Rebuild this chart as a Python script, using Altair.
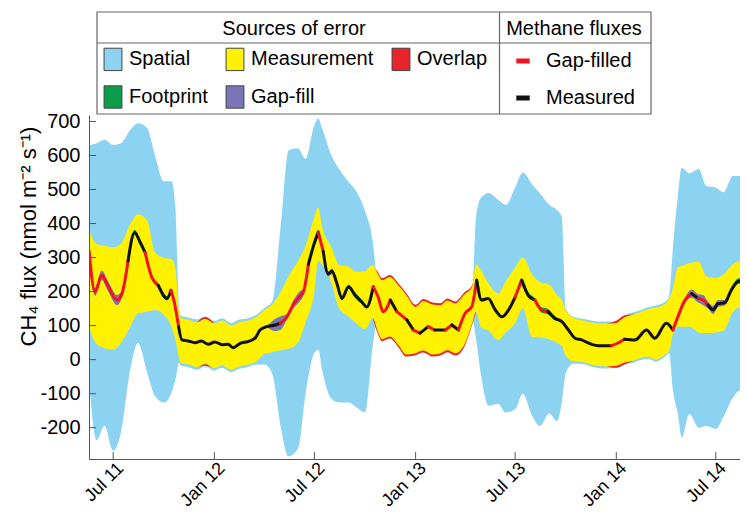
import altair as alt
import pandas as pd

BASE_DATE = "2011-07-01"   # day offsets below are counted from this date

# ---- error bands (day offset, flux in nmol m-2 s-1) ----
BAND_DAY = [-44, -30, -16, 0, 14, 31, 45, 62, 76, 92, 106, 113, 120, 123, 137, 153, 167, 184, 198, 215, 229, 244, 258,
            275, 289, 305, 319, 336, 350, 366, 373, 380, 397, 411, 428, 442, 458, 472, 482, 489, 503, 519, 533,
            550, 564, 581, 595, 608, 622, 639, 653, 660, 669, 683, 700, 714, 731, 745, 762, 776, 793, 807, 816, 823, 837,
            854, 868, 884, 898, 915, 929, 946, 960, 973, 987, 1004, 1011, 1018, 1027, 1034, 1048, 1065, 1079, 1096, 1110, 1127, 1141, 1158]
SPATIAL_HI = [630, 636, 646, 631, 636, 675, 695, 680, 600, 524, 524, 450, 150, 130, 124, 118, 127, 114, 122, 108, 118, 121, 130,
              152, 170, 400, 615, 621, 590, 690, 709, 680, 600, 560, 522, 495, 437, 350, 200, 180, 210, 180, 160,
              120, 130, 125, 125, 130, 125, 160, 200, 420, 476, 490, 470, 455, 505, 550, 515, 490, 455, 440, 420, 150, 126,
              120, 116, 112, 112, 113, 130, 139, 146, 154, 159, 171, 185, 330, 480, 563, 548, 560, 510, 505, 492, 540, 540, 490]
SPATIAL_LO = [-60, -237, -194, -268, -215, -29, 49, -39, -107, -126, -97, -60, -10, -18, -22, -30, -20, -32, -24, -37, -27, -22, -15,
              -14, -40, -200, -284, -262, -100, 20, 29, -30, -115, -126, -126, -140, -155, 40, 120, 110, 130, 100, 70,
              40, 50, 45, 45, 50, 45, 80, 120, 60, -45, -135, -130, -155, -146, -100, -165, -195, -158, -180, -126, -40, -12,
              -13, -20, -25, -26, -24, -15, -9, -1, 2, -6, 9, 18, -90, -160, -228, -160, -200, -195, -204, -168, -112, -90, -110]
MEAS_HI = [380, 340, 335, 330, 340, 398, 427, 408, 315, 299, 296, 270, 140, 124, 117, 110, 120, 107, 115, 100, 110, 114, 123,
           146, 162, 200, 245, 290, 335, 420, 447, 390, 330, 278, 273, 258, 260, 278, 250, 233, 243, 218, 190,
           155, 172, 162, 160, 174, 165, 192, 215, 280, 262, 223, 195, 230, 270, 300, 250, 228, 220, 190, 175, 145, 123,
           115, 110, 106, 106, 108, 124, 133, 140, 148, 153, 165, 178, 210, 272, 275, 283, 288, 245, 240, 250, 280, 290, 268]
MEAS_LO = [95, 45, 34, 29, 49, 97, 136, 141, 146, 131, 97, 60, 5, -10, -14, -22, -13, -25, -17, -30, -20, -15, -8,
           17, 22, 28, 32, 50, 110, 200, 291, 280, 225, 150, 127, 107, 90, 122, 80, 60, 68, 42, 15,
           19, 27, 15, 18, 28, 18, 45, 107, 140, 95, 85, 58, 80, 107, 150, 66, 66, 60, 50, 40, 12, -5,
           -7, -14, -19, -20, -18, -9, -3, 5, 8, 0, 15, 25, 75, 97, 97, 97, 80, 78, 80, 85, 140, 153, 122]
OVERLAP_PAD = ([0] * 16 + [5] + [0] * 6 +
               [0] * 15 + [6] * 5 +
               [6] * 7 + [4] + [0] * 14 +
               [0] * 4 + [6] * 2 + [0] * 17)

# ---- methane flux line ----
LINE_DAY = [-44, -33, -21, -9, 7, 16, 27, 39, 49, 58,
            70, 82, 98, 105, 111, 119, 125, 136, 149, 160,
            173, 185, 198, 209, 218, 231, 245, 258, 267, 279,
            295, 304, 316, 328, 340, 346, 355, 364, 373, 382,
            391, 398, 407, 416, 428, 440, 452, 461, 473, 482,
            491, 504, 516, 534, 546, 558, 573, 585, 604, 616,
            628, 640, 652, 661, 670, 682, 695, 707, 719, 731,
            743, 755, 767, 779, 791, 804, 816, 828, 840, 852,
            864, 882, 906, 918, 930, 949, 970, 985, 1006, 1018,
            1027, 1040, 1052, 1064, 1073, 1082, 1091, 1100, 1112, 1124,
            1138, 1149, 1155]
FLUX = [320, 199, 248, 215, 175, 194, 290, 374, 345, 315,
        243, 218, 180, 204, 170, 97, 58, 55, 50, 55,
        45, 52, 44, 45, 35, 48, 53, 63, 87, 97,
        102, 107, 126, 163, 187, 199, 280, 333, 374, 318,
        252, 260, 223, 180, 214, 189, 170, 155, 214, 184,
        141, 175, 141, 117, 87, 78, 97, 87, 87, 102,
        87, 136, 155, 233, 175, 180, 146, 126, 146, 184,
        233, 189, 175, 146, 141, 121, 112, 87, 63, 58,
        49, 41, 41, 49, 60, 58, 87, 63, 107, 87,
        126, 175, 194, 180, 175, 160, 146, 165, 167, 204,
        231, 214, 189]
MEASURED = [0, 0, 0, 0, 0, 0, 1, 1, 1, 0,
            0, 1, 1, 0, 0, 1, 1, 1, 1, 1,
            1, 1, 1, 1, 1, 1, 1, 1, 1, 1,
            1, 0, 0, 0, 0, 0, 1, 1, 0, 1,
            1, 1, 1, 1, 1, 1, 1, 1, 0, 0,
            0, 1, 0, 1, 0, 1, 0, 1, 0, 1,
            0, 0, 0, 1, 1, 1, 1, 1, 1, 0,
            1, 1, 0, 0, 1, 1, 1, 1, 1, 1,
            1, 1, 0, 0, 1, 1, 1, 1, 1, 0,
            0, 0, 1, 0, 0, 1, 1, 1, 1, 1,
            1, 1, 1]
FOOTPRINT_HALF = [0, 0, 0, 0, 0, 0, 6, 8, 6, 0,
                  0, 6, 6, 0, 0, 0, 0, 0, 0, 0,
                  0, 0, 0, 0, 0, 0, 0, 0, 0, 0,
                  0, 0, 0, 0, 0, 0, 0, 8, 8, 0,
                  0, 0, 0, 6, 6, 8, 6, 0, 0, 0,
                  0, 0, 0, 0, 0, 0, 0, 0, 0, 0,
                  0, 0, 0, 6, 0, 0, 0, 0, 0, 0,
                  6, 8, 6, 8, 8, 6, 0, 0, 0, 0,
                  0, 0, 0, 0, 0, 0, 0, 0, 0, 0,
                  0, 0, 0, 0, 0, 0, 0, 0, 6, 8,
                  8, 6, 0]
GAPFILL_HALF = [0, 12, 14, 15, 15, 10, 0, 0, 0, 0,
                0, 0, 0, 0, 0, 0, 0, 0, 0, 0,
                0, 0, 0, 0, 0, 0, 0, 0, 0, 0,
                18, 20, 8, 12, 15, 10, 0, 0, 0, 0,
                8, 8, 0, 0, 0, 0, 0, 0, 0, 0,
                0, 0, 0, 0, 0, 0, 0, 0, 0, 0,
                0, 0, 0, 0, 0, 0, 0, 0, 0, 0,
                0, 0, 0, 0, 0, 0, 0, 0, 0, 0,
                0, 0, 0, 0, 0, 0, 0, 0, 0, 0,
                10, 8, 12, 12, 15, 10, 12, 10, 8, 0,
                0, 0, 0]

# legend is laid out column by column: (Spatial, Footprint) (Measurement, Gap-fill) (Overlap)
SOURCES = ["Spatial", "Footprint", "Measurement", "Gap-fill", "Overlap"]
SOURCE_COLORS = ["#8CD3F2", "#0B9E4A", "#FFF200", "#7B74B6", "#E8242B"]
FLUX_KINDS = ["Gap-filled", "Measured"]
FLUX_COLORS = ["#F0141E", "#111111"]
TICK_DATES = ["2011-07-01", "2012-01-01", "2012-07-01", "2013-01-01", "2013-07-01", "2014-01-01", "2014-07-01"]
Y_TICKS = [-200, -100, 0, 100, 200, 300, 400, 500, 600, 700]

FONT = "Liberation Sans"


def to_date(days):
    return (pd.Timestamp(BASE_DATE) + pd.to_timedelta(days, unit="D")).strftime("%Y-%m-%d")


def runs(flags):
    out, start = [], 0
    for i in range(1, len(flags) + 1):
        if i == len(flags) or flags[i] != flags[start]:
            out.append((start, i - 1, flags[start]))
            start = i
    return out


band = pd.DataFrame({"date": [to_date(d) for d in BAND_DAY], "su": SPATIAL_HI, "sl": SPATIAL_LO,
                     "mu": MEAS_HI, "ml": MEAS_LO})

n_b = len(BAND_DAY)
ov_rows, seg = [], 0
for s, e, f in runs([p > 0 for p in OVERLAP_PAD]):
    if not f:
        continue
    for i in range(max(s - 1, 0), min(e + 1, n_b - 1) + 1):
        ov_rows.append({"date": to_date(BAND_DAY[i]), "lo": MEAS_LO[i] - OVERLAP_PAD[i],
                        "hi": MEAS_HI[i] + OVERLAP_PAD[i], "seg": seg})
    seg += 1
overlap = pd.DataFrame(ov_rows)

n_l = len(LINE_DAY)


def half_band(half):
    rows, sg = [], 0
    for s, e, f in runs([h > 0 for h in half]):
        if not f:
            continue
        for i in range(max(s - 1, 0), min(e + 1, n_l - 1) + 1):
            rows.append({"date": to_date(LINE_DAY[i]), "lo": FLUX[i] - half[i], "hi": FLUX[i] + half[i], "seg": sg})
        sg += 1
    return pd.DataFrame(rows)


foot = half_band(FOOTPRINT_HALF)
gapf = half_band(GAPFILL_HALF)

line_rows, sg = [], 0
for s, e, f in runs(MEASURED):
    for i in range(s, min(e + 1, n_l - 1) + 1):
        line_rows.append({"date": to_date(LINE_DAY[i]), "flux": FLUX[i],
                          "kind": FLUX_KINDS[f], "seg": sg})
    sg += 1
lines = pd.DataFrame(line_rows)

xticks = pd.DataFrame({"date": TICK_DATES})
yticks = pd.DataFrame({"v": Y_TICKS})
one = pd.DataFrame({"k": [0]})

x_scale = alt.Scale(type="utc", domain=[alt.DateTime(year=2011, month=5, date=18, utc=True),
                                        alt.DateTime(year=2014, month=8, date=14, utc=True)])
y_scale = alt.Scale(domain=[-292, 719], nice=False, zero=False)
color_scale = alt.Scale(domain=SOURCES, range=SOURCE_COLORS)
stroke_scale = alt.Scale(domain=FLUX_KINDS, range=FLUX_COLORS)

x_axis = alt.Axis(values=[alt.DateTime(year=int(t[:4]), month=int(t[5:7]), date=1, utc=True) for t in TICK_DATES],
                  format="%b %y", labelAngle=315, labelAlign="right", labelBaseline="top",
                  labelFontSize=18, labelPadding=0, labelOffset=1, labelColor="black", labelFont=FONT,
                  ticks=False, domainColor="#555", grid=False, title=None, zindex=1,
                  labelFlush=False, labelOverlap=False)
y_axis = alt.Axis(values=Y_TICKS, labelExpr="'' + datum.value",
                  title="CH₄ flux (nmol m⁻² s⁻¹)", titleX=-54, titleY=121, titleAngle=270,
                  titleAlign="center", titleBaseline="alphabetic", titleFontSize=22, titleFontWeight="normal",
                  titleColor="black", titleFont=FONT, labelFontSize=20, labelPadding=9, labelColor="black",
                  labelFont=FONT, ticks=False, domainColor="#555", grid=False, zindex=1)

leg1 = alt.Legend(title="Sources of error", orient="none", legendX=5, legendY=-103, columns=3,
                  symbolType="M-0.8,-1H0.8V1H-0.8Z", symbolSize=500, symbolStrokeColor="#444",
                  symbolStrokeWidth=1, symbolOpacity=1, labelFont=FONT, labelFontSize=20, labelColor="black",
                  labelOffset=4, labelLimit=300, titleFont=FONT, titleFontSize=20, titleFontWeight="normal",
                  titleColor="black", titleAnchor="middle", titlePadding=8, padding=7, rowPadding=10,
                  columnPadding=15)
leg2 = alt.Legend(title="Methane fluxes", orient="none", legendX=410, legendY=-103,
                  symbolType="M-0.6,0H0.6", symbolSize=500, symbolStrokeWidth=5, symbolOpacity=1,
                  symbolOffset=-4,
                  labelFont=FONT, labelFontSize=20, labelColor="black", labelOffset=9, labelLimit=300,
                  titleFont=FONT, titleFontSize=20, titleFontWeight="normal", titleColor="black",
                  titleAnchor="middle", titlePadding=8, padding=7, rowPadding=13)

X = alt.X("date:T", scale=x_scale, axis=x_axis)


def Y(field):
    return alt.Y(field, scale=y_scale, axis=y_axis)


COL = alt.Color("source:N", scale=color_scale, legend=leg1)

spatial = alt.Chart(band).transform_calculate(source="'Spatial'").mark_area(
    clip=True, opacity=1, interpolate="monotone").encode(
    x=X, y=Y("sl:Q"), y2="su:Q", color=COL)

overlap_l = alt.Chart(overlap).transform_calculate(source="'Overlap'").mark_area(
    clip=True, opacity=1, interpolate="monotone").encode(
    x=X, y=Y("lo:Q"), y2="hi:Q", color=COL, detail="seg:N")

meas = alt.Chart(band).transform_calculate(source="'Measurement'").mark_area(
    clip=True, opacity=1, interpolate="monotone").encode(
    x=X, y=Y("ml:Q"), y2="mu:Q", color=COL)

foot_l = alt.Chart(foot).transform_calculate(source="'Footprint'").mark_area(
    clip=True, opacity=1, interpolate="monotone").encode(
    x=X, y=Y("lo:Q"), y2="hi:Q", color=COL, detail="seg:N")

gap_l = alt.Chart(gapf).transform_calculate(source="'Gap-fill'").mark_area(
    clip=True, opacity=1, interpolate="monotone").encode(
    x=X, y=Y("lo:Q"), y2="hi:Q", color=COL, detail="seg:N")

flux_l = alt.Chart(lines).mark_line(clip=True, strokeWidth=3, strokeCap="round", strokeJoin="round",
                                    interpolate="monotone").encode(
    x=X, y=Y("flux:Q"),
    stroke=alt.Stroke("kind:N", scale=stroke_scale, legend=leg2), detail="seg:N")

xt = alt.Chart(xticks).mark_rule(color="#555", strokeWidth=1).encode(
    x=X, y=alt.value(344), y2=alt.value(337))
yt = alt.Chart(yticks).mark_rule(color="#555", strokeWidth=1).encode(
    y=Y("v:Q"), x=alt.value(0), x2=alt.value(7))

frame = alt.Chart(one).mark_rect(fill="transparent", stroke="#666", strokeWidth=1.2).encode(
    x=alt.value(8), x2=alt.value(562), y=alt.value(-103), y2=alt.value(-1))
hdiv = alt.Chart(one).mark_rule(color="#666", strokeWidth=1.2).encode(
    x=alt.value(8), x2=alt.value(562), y=alt.value(-72))
vdiv = alt.Chart(one).mark_rule(color="#666", strokeWidth=1.2).encode(
    x=alt.value(410.5), y=alt.value(-103), y2=alt.value(-1))

chart = alt.layer(spatial, overlap_l, meas, foot_l, gap_l, flux_l, xt, yt, frame, hdiv, vdiv).properties(
    width=651, height=344,
    padding={"left": 81, "top": 107, "right": 0, "bottom": 52},
    autosize=alt.AutoSizeParams(type="none"),
).configure(font=FONT).configure_view(stroke=None)

chart.save("out.html", embed_options={"renderer": "svg", "actions": False})
